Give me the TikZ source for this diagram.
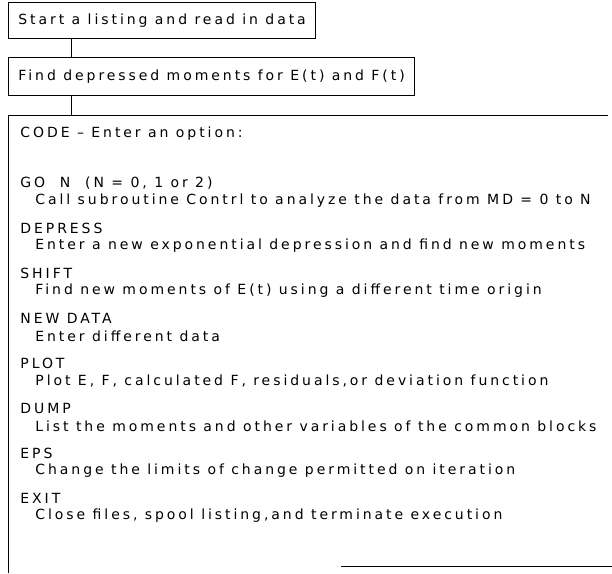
\documentclass[tikz,border=0pt]{standalone}
\usepackage{fontspec}
\setmainfont{DejaVu Sans}[LetterSpace=21]
\usetikzlibrary{positioning}

\begin{document}
\begin{tikzpicture}[x=1pt,y=-1pt,line width=0.8pt,
    node font=\fontsize{14}{16}\selectfont,
    stepbox/.style={draw,anchor=north west,inner xsep=10pt},
    opt/.style={anchor=west,inner sep=0pt},
    what/.style={anchor=west,inner sep=0pt}]
  \useasboundingbox (0,0) rectangle (612,573);
  % the two steps before the menu
  \node[stepbox,minimum height=36pt] (start) at (8,2) {Start a listing and read in data};
  \node[stepbox,minimum height=38pt] (moments) at (8,57) {Find depressed moments for E(t) and F(t)};
  \coordinate (menutop) at (71,115);
  \draw (start.south -| menutop) -- (moments.north -| menutop);
  \draw (moments.south -| menutop) -- (menutop);
  % menu box, cut at right and bottom
  \draw (8,573) -- (8,115) -- (608,115);
  \draw (341,566) -- (612,566);
  \node[opt] (code) at (20,134) {CODE -- Enter an option:};
  \foreach \o/\w [count=\i] in {
      {GO\ \ N\ \ (N = 0, 1 or 2)}/{Call subroutine Contrl to analyze the data from MD = 0 to N},
      DEPRESS/{Enter a new exponential depression and find new moments},
      SHIFT/{Find new moments of E(t) using a different time origin},
      NEW DATA/{Enter different data},
      PLOT/{Plot E, F, calculated F, residuals,or deviation function},
      DUMP/{List the moments and other variables of the common blocks},
      EPS/{Change the limits of change permitted on iteration},
      EXIT/{Close files, spool listing,and terminate execution}}{
    \node[opt] (opt\i) at (20,{183+45*(\i-1)}) {\o};
    \node[what] (what\i) at (35,{201+45*(\i-1)}) {\w};
  }
\end{tikzpicture}
\end{document}
